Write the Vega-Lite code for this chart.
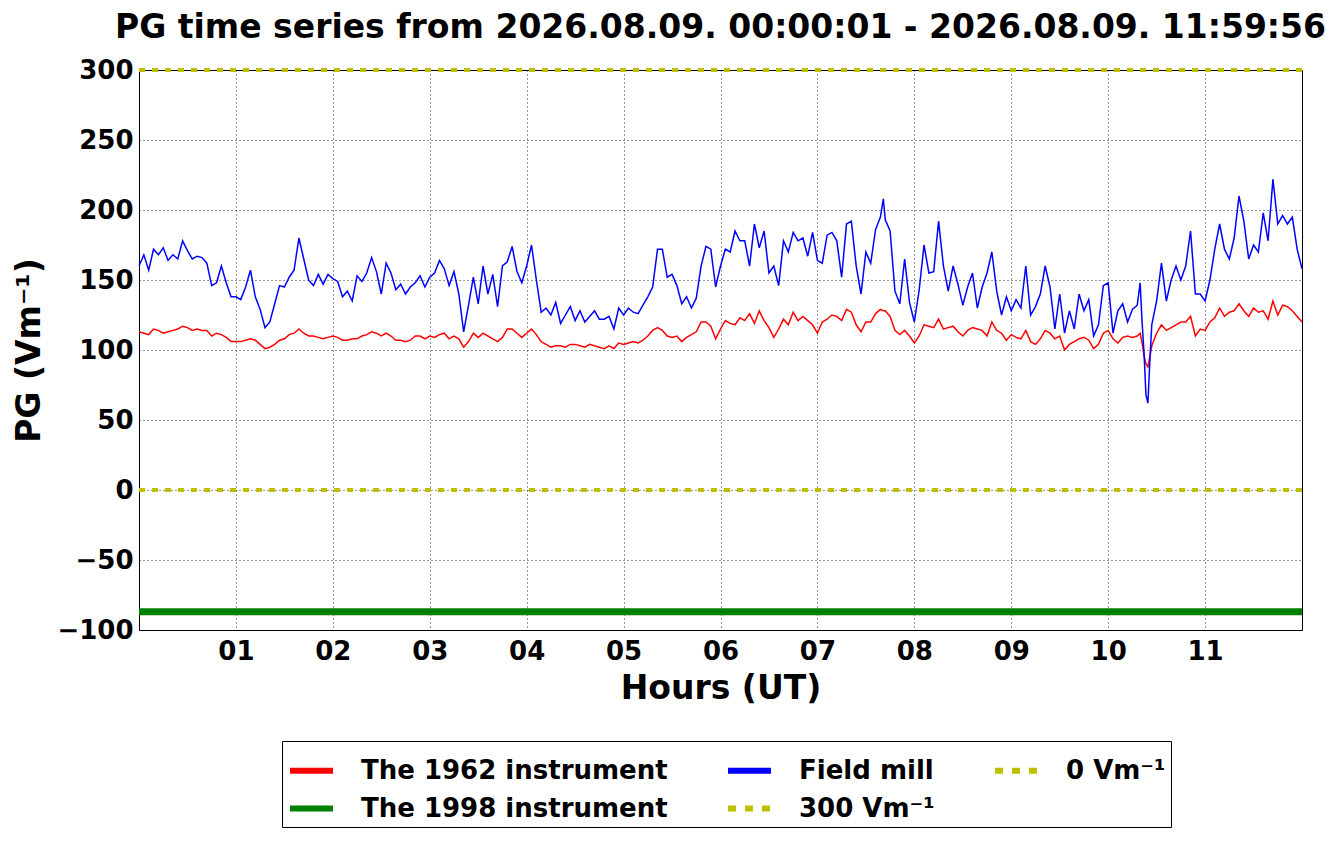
{
"$schema": "https://vega.github.io/schema/vega-lite/v6.json",
"width": 1163,
"height": 560,
"autosize": {"type": "none"},
"padding": {"left": 139, "top": 70, "right": 40, "bottom": 214},
"background": "white",
"title": {"text": "PG time series from 2026.08.09. 00:00:01 - 2026.08.09. 11:59:56", "font": "DejaVu Sans", "fontSize": 33, "fontWeight": "bold", "color": "black", "anchor": "middle", "frame": "group", "offset": 12},
"config": {
  "view": {"stroke": "black", "strokeWidth": 1},
  "axis": {"domain": false, "ticks": false, "grid": true, "gridColor": "black", "gridDash": [1, 3], "gridWidth": 1, "gridOpacity": 0.8, "labelFont": "DejaVu Sans", "labelFontWeight": "bold", "labelFontSize": 26, "labelColor": "black", "titleFont": "DejaVu Sans", "titleFontWeight": "bold", "titleFontSize": 33, "titleColor": "black"}
},
"datasets": {
"main": [
{"h":0.00,"r":113,"b":160},{"h":0.05,"r":112,"b":168},{"h":0.10,"r":111,"b":157},{"h":0.15,"r":115,"b":172},{"h":0.20,"r":114,"b":168},{"h":0.25,"r":112,"b":173},{"h":0.30,"r":113,"b":164},{"h":0.35,"r":114,"b":168},{"h":0.40,"r":115,"b":165},{"h":0.45,"r":117,"b":178},
{"h":0.50,"r":116,"b":171},{"h":0.55,"r":114,"b":165},{"h":0.60,"r":115,"b":167},{"h":0.65,"r":114,"b":166},{"h":0.70,"r":114,"b":162},{"h":0.75,"r":110,"b":146},{"h":0.80,"r":112,"b":148},{"h":0.85,"r":111,"b":160},{"h":0.90,"r":109,"b":148},{"h":0.95,"r":106,"b":138},
{"h":1.00,"r":106,"b":138},{"h":1.05,"r":106,"b":136},{"h":1.10,"r":107,"b":145},{"h":1.15,"r":108,"b":157},{"h":1.20,"r":107,"b":138},{"h":1.25,"r":104,"b":129},{"h":1.30,"r":101,"b":116},{"h":1.35,"r":102,"b":120},{"h":1.40,"r":104,"b":133},{"h":1.45,"r":107,"b":146},
{"h":1.50,"r":108,"b":145},{"h":1.55,"r":111,"b":152},{"h":1.60,"r":112,"b":157},{"h":1.65,"r":115,"b":180},{"h":1.70,"r":112,"b":165},{"h":1.75,"r":110,"b":150},{"h":1.80,"r":110,"b":146},{"h":1.85,"r":109,"b":154},{"h":1.90,"r":108,"b":147},{"h":1.95,"r":109,"b":154},
{"h":2.00,"r":110,"b":151},{"h":2.05,"r":109,"b":149},{"h":2.10,"r":107,"b":138},{"h":2.15,"r":107,"b":142},{"h":2.20,"r":108,"b":135},{"h":2.25,"r":108,"b":153},{"h":2.30,"r":110,"b":149},{"h":2.35,"r":111,"b":155},{"h":2.40,"r":113,"b":166},{"h":2.45,"r":112,"b":156},
{"h":2.50,"r":110,"b":140},{"h":2.55,"r":112,"b":162},{"h":2.60,"r":110,"b":155},{"h":2.65,"r":107,"b":143},{"h":2.70,"r":107,"b":147},{"h":2.75,"r":106,"b":140},{"h":2.80,"r":107,"b":145},{"h":2.85,"r":110,"b":148},{"h":2.90,"r":110,"b":153},{"h":2.95,"r":108,"b":145},
{"h":3.00,"r":110,"b":152},{"h":3.05,"r":109,"b":155},{"h":3.10,"r":111,"b":164},{"h":3.15,"r":112,"b":158},{"h":3.20,"r":108,"b":146},{"h":3.25,"r":110,"b":156},{"h":3.30,"r":108,"b":140},{"h":3.35,"r":102,"b":113},{"h":3.40,"r":106,"b":132},{"h":3.45,"r":112,"b":152},
{"h":3.50,"r":109,"b":133},{"h":3.55,"r":112,"b":160},{"h":3.60,"r":110,"b":140},{"h":3.65,"r":108,"b":154},{"h":3.70,"r":106,"b":131},{"h":3.75,"r":109,"b":160},{"h":3.80,"r":115,"b":163},{"h":3.85,"r":115,"b":174},{"h":3.90,"r":112,"b":156},{"h":3.95,"r":109,"b":148},
{"h":4.00,"r":112,"b":160},{"h":4.05,"r":115,"b":175},{"h":4.10,"r":111,"b":150},{"h":4.15,"r":106,"b":127},{"h":4.20,"r":104,"b":130},{"h":4.25,"r":102,"b":125},{"h":4.30,"r":103,"b":134},{"h":4.35,"r":103,"b":119},{"h":4.40,"r":102,"b":125},{"h":4.45,"r":104,"b":131},
{"h":4.50,"r":104,"b":121},{"h":4.55,"r":103,"b":128},{"h":4.60,"r":102,"b":120},{"h":4.65,"r":104,"b":124},{"h":4.70,"r":103,"b":128},{"h":4.75,"r":102,"b":122},{"h":4.80,"r":101,"b":122},{"h":4.85,"r":103,"b":124},{"h":4.90,"r":101,"b":115},{"h":4.95,"r":105,"b":130},
{"h":5.00,"r":104,"b":125},{"h":5.05,"r":105,"b":130},{"h":5.10,"r":106,"b":127},{"h":5.15,"r":105,"b":126},{"h":5.20,"r":107,"b":132},{"h":5.25,"r":110,"b":138},{"h":5.30,"r":114,"b":145},{"h":5.35,"r":116,"b":172},{"h":5.40,"r":114,"b":172},{"h":5.45,"r":110,"b":152},
{"h":5.50,"r":109,"b":154},{"h":5.55,"r":110,"b":146},{"h":5.60,"r":106,"b":133},{"h":5.65,"r":109,"b":138},{"h":5.70,"r":111,"b":130},{"h":5.75,"r":113,"b":137},{"h":5.80,"r":120,"b":160},{"h":5.85,"r":120,"b":174},{"h":5.90,"r":117,"b":172},{"h":5.95,"r":108,"b":145},
{"h":6.00,"r":115,"b":160},{"h":6.05,"r":121,"b":172},{"h":6.10,"r":119,"b":170},{"h":6.15,"r":118,"b":185},{"h":6.20,"r":123,"b":178},{"h":6.25,"r":121,"b":178},{"h":6.30,"r":126,"b":160},{"h":6.35,"r":119,"b":190},{"h":6.40,"r":128,"b":173},{"h":6.45,"r":121,"b":185},
{"h":6.50,"r":116,"b":155},{"h":6.55,"r":109,"b":160},{"h":6.60,"r":115,"b":146},{"h":6.65,"r":122,"b":178},{"h":6.70,"r":118,"b":170},{"h":6.75,"r":127,"b":184},{"h":6.80,"r":121,"b":178},{"h":6.85,"r":124,"b":180},{"h":6.90,"r":121,"b":167},{"h":6.95,"r":118,"b":184},
{"h":7.00,"r":112,"b":164},{"h":7.05,"r":120,"b":162},{"h":7.10,"r":122,"b":182},{"h":7.15,"r":125,"b":184},{"h":7.20,"r":124,"b":178},{"h":7.25,"r":121,"b":152},{"h":7.30,"r":129,"b":190},{"h":7.35,"r":127,"b":192},{"h":7.40,"r":118,"b":160},{"h":7.45,"r":113,"b":140},
{"h":7.50,"r":120,"b":170},{"h":7.55,"r":120,"b":162},{"h":7.60,"r":126,"b":186},{"h":7.65,"r":129,"b":195},{"h":7.68,"r":128,"b":208},{"h":7.70,"r":128,"b":193},{"h":7.75,"r":124,"b":185},{"h":7.80,"r":114,"b":142},{"h":7.85,"r":111,"b":133},{"h":7.90,"r":114,"b":165},{"h":7.95,"r":110,"b":134},
{"h":8.00,"r":105,"b":120},{"h":8.05,"r":110,"b":143},{"h":8.10,"r":118,"b":175},{"h":8.15,"r":117,"b":155},{"h":8.20,"r":116,"b":156},{"h":8.25,"r":122,"b":192},{"h":8.30,"r":115,"b":160},{"h":8.35,"r":116,"b":142},{"h":8.40,"r":117,"b":160},{"h":8.45,"r":113,"b":147},
{"h":8.50,"r":110,"b":132},{"h":8.55,"r":114,"b":145},{"h":8.60,"r":116,"b":155},{"h":8.65,"r":115,"b":130},{"h":8.70,"r":114,"b":145},{"h":8.75,"r":110,"b":155},{"h":8.80,"r":120,"b":170},{"h":8.85,"r":114,"b":142},{"h":8.90,"r":112,"b":125},{"h":8.95,"r":107,"b":138},
{"h":9.00,"r":111,"b":128},{"h":9.05,"r":109,"b":136},{"h":9.10,"r":108,"b":130},{"h":9.15,"r":114,"b":160},{"h":9.20,"r":106,"b":125},{"h":9.25,"r":104,"b":131},{"h":9.30,"r":108,"b":140},{"h":9.35,"r":114,"b":160},{"h":9.40,"r":112,"b":145},{"h":9.45,"r":108,"b":115},
{"h":9.50,"r":110,"b":140},{"h":9.55,"r":100,"b":112},{"h":9.60,"r":104,"b":128},{"h":9.65,"r":106,"b":115},{"h":9.70,"r":108,"b":140},{"h":9.75,"r":109,"b":128},{"h":9.80,"r":107,"b":136},{"h":9.85,"r":101,"b":110},{"h":9.90,"r":104,"b":118},{"h":9.95,"r":112,"b":146},
{"h":10.00,"r":114,"b":148},{"h":10.05,"r":108,"b":112},{"h":10.10,"r":105,"b":128},{"h":10.15,"r":109,"b":133},{"h":10.20,"r":110,"b":120},{"h":10.25,"r":109,"b":129},{"h":10.30,"r":110,"b":132},{"h":10.33,"r":112,"b":148},{"h":10.35,"r":105,"b":120},{"h":10.37,"r":96,"b":98},
{"h":10.39,"r":90,"b":68},{"h":10.41,"r":88,"b":62},{"h":10.43,"r":95,"b":92},{"h":10.45,"r":103,"b":118},{"h":10.50,"r":112,"b":135},{"h":10.55,"r":118,"b":162},{"h":10.60,"r":114,"b":135},{"h":10.65,"r":116,"b":150},{"h":10.70,"r":118,"b":160},{"h":10.75,"r":120,"b":150},
{"h":10.80,"r":120,"b":160},{"h":10.85,"r":124,"b":185},{"h":10.90,"r":110,"b":140},{"h":10.95,"r":115,"b":140},{"h":11.00,"r":114,"b":135},{"h":11.05,"r":120,"b":150},{"h":11.10,"r":123,"b":172},{"h":11.15,"r":130,"b":190},{"h":11.20,"r":124,"b":172},{"h":11.25,"r":127,"b":165},
{"h":11.30,"r":128,"b":180},{"h":11.35,"r":133,"b":210},{"h":11.40,"r":128,"b":192},{"h":11.45,"r":124,"b":165},{"h":11.50,"r":130,"b":175},{"h":11.55,"r":127,"b":170},{"h":11.60,"r":128,"b":198},{"h":11.65,"r":122,"b":178},{"h":11.70,"r":135,"b":222},{"h":11.75,"r":125,"b":190},
{"h":11.80,"r":132,"b":196},{"h":11.85,"r":131,"b":190},{"h":11.90,"r":128,"b":195},{"h":11.95,"r":124,"b":172},{"h":12.00,"r":120,"b":158}
],
"green": [{"key":"g","h":0,"value":-87},{"key":"g","h":12,"value":-87}],
"yellow": [{"key":"y300","h":0,"value":300},{"key":"y300","h":12,"value":300},{"key":"y0","h":0,"value":0},{"key":"y0","h":12,"value":0}]
},
"encoding": {
  "x": {"field": "h", "type": "quantitative", "scale": {"domain": [0, 12], "nice": false, "zero": false}, "axis": {"values": [1,2,3,4,5,6,7,8,9,10,11], "labelExpr": "(datum.value < 10 ? '0' : '') + datum.value", "labelPadding": 8, "title": "Hours (UT)", "titlePadding": 8}},
  "y": {"field": "value", "type": "quantitative", "scale": {"domain": [-100, 300], "nice": false, "zero": false}, "axis": {"values": [-100,-50,0,50,100,150,200,250,300], "labelPadding": 6, "title": "PG (Vm⁻¹)", "titlePadding": 10}},
  "color": {"field": "key", "type": "nominal",
    "scale": {"domain": ["r", "g", "b", "y300", "y0"], "range": ["#ff0000", "#008000", "#0000ff", "#bfbf00", "#bfbf00"]},
    "legend": {"orient": "none", "legendX": 143, "legendY": 671, "columns": 3, "title": null, "symbolType": "stroke", "symbolSize": 1849, "symbolStrokeWidth": 6, "labelFont": "DejaVu Sans", "labelFontWeight": "bold", "labelFontSize": 26, "labelColor": "black", "labelOffset": 25, "labelLimit": 0, "columnPadding": 48, "rowPadding": 0, "padding": 5, "strokeColor": "black", "fillColor": "white", "cornerRadius": 0,
      "labelExpr": "datum.label == 'r' ? 'The 1962 instrument' : datum.label == 'b' ? 'Field mill' : datum.label == 'g' ? 'The 1998 instrument' : datum.label == 'y300' ? '300 Vm⁻¹' : '0 Vm⁻¹'",
      "encode": {"symbols": {"update": {"strokeDash": {"signal": "datum.value == 'y0' || datum.value == 'y300' ? [8, 9] : [1, 0]"}}}}}}
},
"layer": [
  {"data": {"name": "main"}, "transform": [{"fold": ["r"]}], "mark": {"type": "line", "strokeWidth": 1.5}, "encoding": {}},
  {"data": {"name": "green"}, "mark": {"type": "line", "strokeWidth": 7}, "encoding": {}},
  {"data": {"name": "main"}, "transform": [{"fold": ["b"]}], "mark": {"type": "line", "strokeWidth": 1.5}, "encoding": {}},
  {"data": {"name": "yellow"}, "mark": {"type": "line", "strokeWidth": 4, "strokeDash": [6, 7]}, "encoding": {}}
]
}
